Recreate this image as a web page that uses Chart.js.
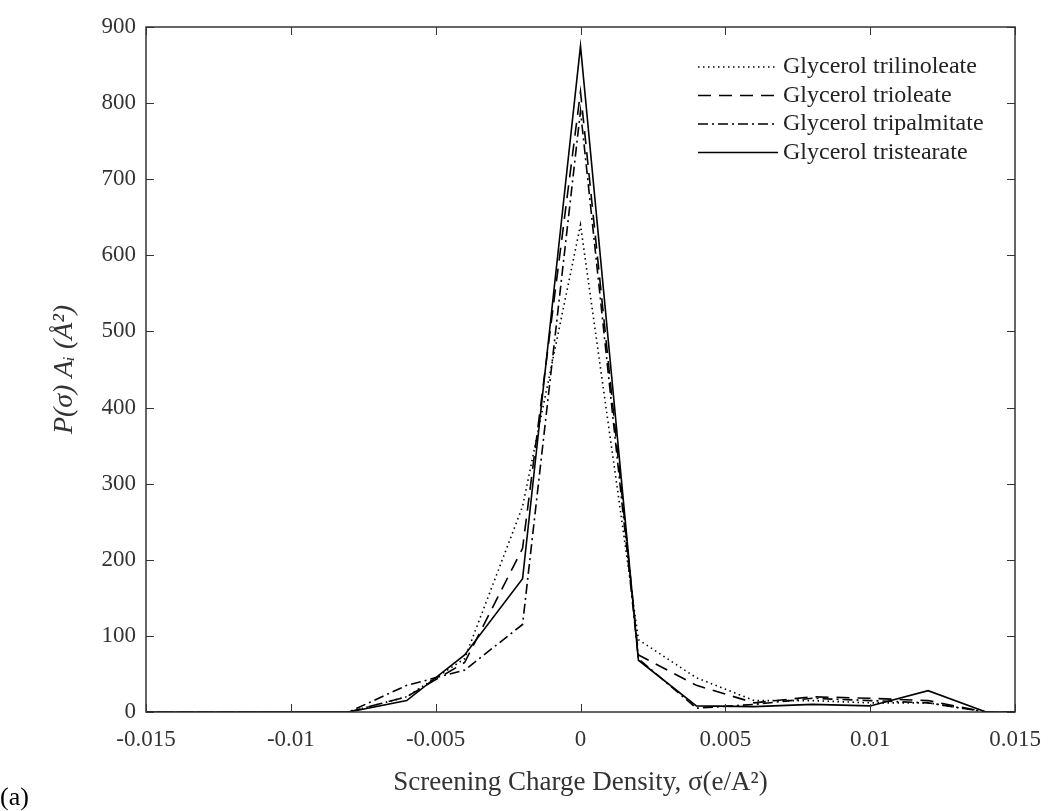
<!DOCTYPE html>
<html>
<head>
  <meta charset="UTF-8">
  <title>Sigma profiles</title>
  <script src="https://cdn.jsdelivr.net/npm/chart.js"></script>
  <style>
    body { margin: 0; padding: 0; background: #fff; }
    #wrap { width: 1048px; height: 811px; }
  </style>
</head>
<body>
<div id="wrap"><canvas id="sigmaChart" width="1048" height="811"></canvas></div>
<script>
  // screening charge density (e/A^2)
  const sigma = [-0.016, -0.014, -0.012, -0.010, -0.008, -0.006, -0.004, -0.002, 0,
                 0.002, 0.004, 0.006, 0.008, 0.010, 0.012, 0.014, 0.016];
  const trilinoleate = [0, 0, 0, 0, 0, 20, 70, 270, 640, 95, 45, 15, 15, 12, 12, 0, 0];
  const trioleate    = [0, 0, 0, 0, 0, 20, 65, 215, 815, 75, 35, 12, 20, 18, 15, 0, 0];
  const tripalmitate = [0, 0, 0, 0, 0, 35, 55, 115, 790, 70, 5, 10, 18, 15, 12, 0, 0];
  const tristearate  = [0, 0, 0, 0, 0, 15, 75, 175, 875, 68, 8, 7, 10, 8, 28, 0, 0];

  const seriesNames = ['Glycerol trilinoleate', 'Glycerol trioleate', 'Glycerol tripalmitate', 'Glycerol tristearate'];
  const seriesDash = [[1.5, 3.5], [13, 8], [10, 4, 2, 4], []];

  const axisColor = '#333333';
  const serif = "'Liberation Serif', 'Times New Roman', serif";

  function pts(ys) {
    return sigma.map((x, i) => ({ x: x, y: ys[i] }));
  }

  const allSeries = [trilinoleate, trioleate, tripalmitate, tristearate];
  const datasets = allSeries.map((ys, i) => ({
    label: seriesNames[i],
    data: pts(ys),
    borderColor: '#000',
    borderWidth: 1.6,
    borderDash: seriesDash[i],
    pointRadius: 0,
    tension: 0,
    fill: false
  }));

  // box, inward ticks, legend and panel label
  const matlabLook = {
    id: 'matlabLook',
    afterDraw(chart) {
      const ctx = chart.ctx;
      const a = chart.chartArea;
      const xs = chart.scales.x, ys = chart.scales.y;
      ctx.save();
      ctx.strokeStyle = axisColor;
      ctx.lineWidth = 1.5;
      ctx.setLineDash([]);
      ctx.strokeRect(a.left, a.top, a.right - a.left, a.bottom - a.top);
      const tl = 8;
      ctx.lineWidth = 1;
      ctx.beginPath();
      xs.ticks.forEach(t => {
        const px = Math.round(xs.getPixelForValue(t.value)) + 0.5;
        ctx.moveTo(px, a.bottom); ctx.lineTo(px, a.bottom - tl);
        ctx.moveTo(px, a.top); ctx.lineTo(px, a.top + tl);
      });
      ys.ticks.forEach(t => {
        const py = Math.round(ys.getPixelForValue(t.value)) + 0.5;
        ctx.moveTo(a.left, py); ctx.lineTo(a.left + tl, py);
        ctx.moveTo(a.right, py); ctx.lineTo(a.right - tl, py);
      });
      ctx.stroke();

      // legend
      const lx0 = 698, lx1 = 778, ly0 = 67, step = 28.5;
      ctx.font = '24px ' + serif;
      ctx.textBaseline = 'middle';
      ctx.textAlign = 'left';
      seriesNames.forEach((name, i) => {
        const y = ly0 + i * step;
        ctx.strokeStyle = '#000';
        ctx.lineWidth = 1.5;
        ctx.setLineDash(seriesDash[i]);
        ctx.beginPath();
        ctx.moveTo(lx0, y); ctx.lineTo(lx1, y);
        ctx.stroke();
        ctx.setLineDash([]);
        ctx.fillStyle = '#222';
        ctx.fillText(name, lx1 + 5, y);
      });

      // panel label
      ctx.font = '26px ' + serif;
      ctx.fillStyle = '#000';
      ctx.textBaseline = 'alphabetic';
      ctx.fillText('(a)', 0, 805);
      ctx.restore();
    }
  };

  new Chart(document.getElementById('sigmaChart'), {
    type: 'line',
    data: { datasets: datasets },
    options: {
      responsive: false,
      animation: false,
      layout: { padding: { left: 0, right: 33, top: 27, bottom: 12 } },
      plugins: {
        legend: { display: false },
        tooltip: { enabled: false }
      },
      scales: {
        x: {
          type: 'linear',
          min: -0.015,
          max: 0.015,
          afterFit: s => { s.height = 87; s.paddingLeft = 0; s.paddingRight = 0; },
          grid: { display: false, drawTicks: false },
          border: { display: false },
          ticks: {
            stepSize: 0.005,
            padding: 14,
            color: '#333',
            font: { family: serif, size: 23 },
            maxRotation: 0,
            callback: v => {
              const r = Number(v.toFixed(3));
              return r === 0 ? '0' : String(r);
            }
          },
          title: {
            display: true,
            text: 'Screening Charge Density, σ(e/A²)',
            color: '#333',
            font: { family: serif, size: 27 },
            padding: { top: 0, bottom: 0 }
          }
        },
        y: {
          min: 0,
          max: 900,
          afterFit: s => { s.width = 146; s.paddingTop = 0; s.paddingBottom = 0; },
          grid: { display: false, drawTicks: false },
          border: { display: false },
          ticks: {
            stepSize: 100,
            padding: 10,
            color: '#333',
            font: { family: serif, size: 23 }
          },
          title: {
            display: true,
            text: 'P(σ) Aᵢ (Å²)',
            color: '#333',
            font: { family: serif, size: 28, style: 'italic' },
            padding: { top: 48, bottom: 0 }
          }
        }
      }
    },
    plugins: [matlabLook]
  });
</script>
</body>
</html>
